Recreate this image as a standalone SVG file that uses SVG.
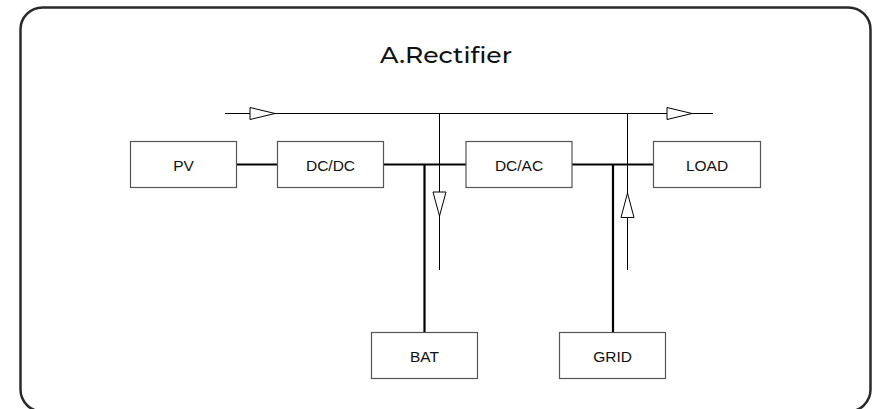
<svg xmlns="http://www.w3.org/2000/svg" width="878" height="409" viewBox="0 0 878 409">
<style>
.box{fill:#fff;stroke:#555;stroke-width:1.2}
.lbl{font-family:"Liberation Sans",Arial,sans-serif;font-size:15.5px;fill:#111;text-anchor:middle}
.thick{stroke:#000;stroke-width:2.2;fill:none}
.thin{stroke:#000;stroke-width:1;fill:none}
.tri{fill:#fff;stroke:#000;stroke-width:1}
</style>
<rect x="20.5" y="7.5" width="850" height="404" rx="22" ry="22" fill="#fff" stroke="#2a2a2a" stroke-width="2.5"/>
<text x="380" y="63" textLength="132" lengthAdjust="spacingAndGlyphs" font-family="Montserrat,'Open Sans',sans-serif" font-size="21.5" font-weight="500" fill="#111">A.Rectifier</text>
<g id="connectors">
<line class="thick" x1="237" y1="164.5" x2="277" y2="164.5"/>
<line class="thick" x1="384" y1="164.5" x2="466" y2="164.5"/>
<line class="thick" x1="572" y1="164.5" x2="653" y2="164.5"/>
<line class="thick" x1="424.5" y1="164.5" x2="424.5" y2="333"/>
<line class="thick" x1="613" y1="164.5" x2="613" y2="333"/>
<line class="thin" x1="225" y1="113.5" x2="713" y2="113.5"/>
<line class="thin" x1="439.5" y1="113.5" x2="439.5" y2="270"/>
<line class="thin" x1="627.5" y1="113.5" x2="627.5" y2="270"/>
<polygon class="tri" points="250,107.5 275,113.5 250,119.5"/>
<polygon class="tri" points="667,107.5 692,113.5 667,119.5"/>
<polygon class="tri" points="433,192 446,192 439.5,216"/>
<polygon class="tri" points="621,217.5 634,217.5 627.5,193"/>
</g>
<g id="pv"><rect class="box" x="130.5" y="141.5" width="106" height="46"/><text class="lbl" x="183.5" y="170.5">PV</text></g>
<g id="dcdc"><rect class="box" x="277.5" y="141.5" width="106" height="46"/><text class="lbl" x="330.5" y="170.5">DC/DC</text></g>
<g id="dcac"><rect class="box" x="466" y="141.5" width="106" height="46"/><text class="lbl" x="519" y="170.5">DC/AC</text></g>
<g id="load"><rect class="box" x="653.5" y="141.5" width="107" height="46"/><text class="lbl" x="707" y="170.5">LOAD</text></g>
<g id="bat"><rect class="box" x="371.5" y="332.5" width="106" height="46"/><text class="lbl" x="424.5" y="361.5">BAT</text></g>
<g id="grid"><rect class="box" x="559.5" y="332.5" width="106" height="46"/><text class="lbl" x="612.5" y="361.5">GRID</text></g>
</svg>
